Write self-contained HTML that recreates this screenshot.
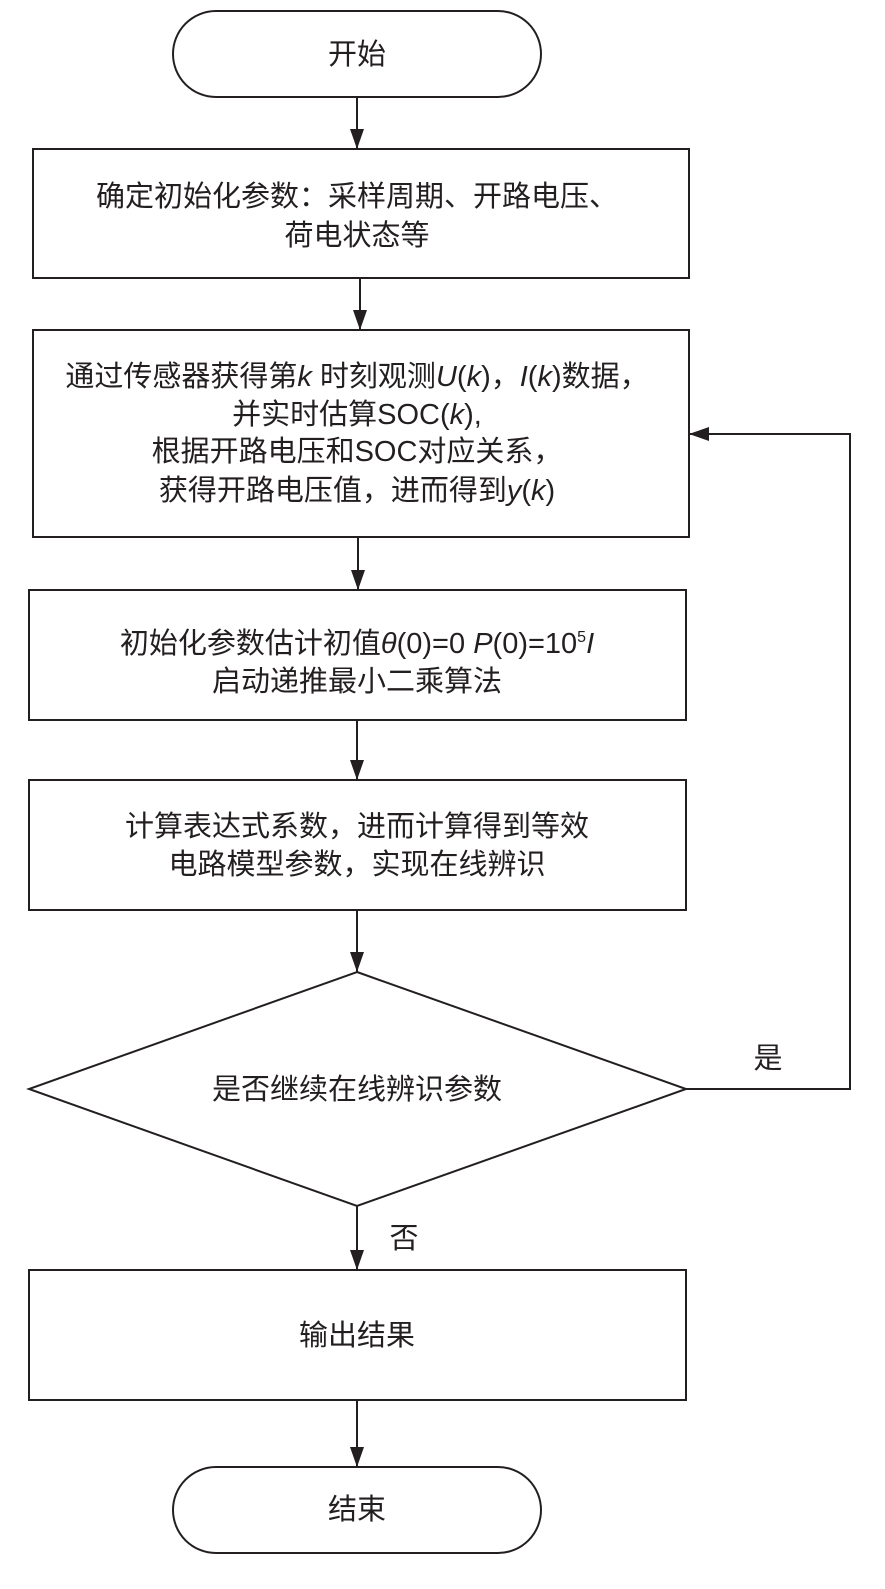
<!DOCTYPE html>
<html><head><meta charset="utf-8"><style>
html,body{margin:0;padding:0;background:#fff;}
svg{display:block;}
text{font-family:"Liberation Sans","Noto Sans CJK SC",sans-serif;font-size:29px;fill:#231f20;text-anchor:middle;}
.i{font-style:italic;}
</style></head><body>
<svg width="885" height="1589" viewBox="0 0 885 1589" xmlns="http://www.w3.org/2000/svg">
<defs>
<marker id="b" markerWidth="20" markerHeight="14" refX="20" refY="7" orient="auto" markerUnits="userSpaceOnUse"><path d="M0,0 L20,7 L0,14 z" fill="#231f20"/></marker></defs>
<g stroke="#231f20" stroke-width="2" fill="none">
<rect x="173" y="11" width="368" height="86" rx="43"/>
<rect x="33" y="149" width="656" height="129"/>
<rect x="33" y="330" width="656" height="207"/>
<rect x="29" y="590" width="657" height="130"/>
<rect x="29" y="780" width="657" height="130"/>
<path d="M357,972 L686,1089 L357,1206 L29,1089 Z"/>
<rect x="29" y="1270" width="657" height="130"/>
<rect x="173" y="1467" width="368" height="86" rx="43"/>
<g marker-end="url(#b)">
<line x1="357" y1="97" x2="357" y2="149"/>
<line x1="360" y1="278" x2="360" y2="330"/>
<line x1="358" y1="537" x2="358" y2="590"/>
<line x1="357" y1="720" x2="357" y2="780"/>
<line x1="357" y1="910" x2="357" y2="972"/>
<line x1="357" y1="1206" x2="357" y2="1270"/>
<line x1="357" y1="1400" x2="357" y2="1467"/>
<polyline points="686,1089 850,1089 850,434 689,434"/>
</g>
</g>
<text x="357" y="64">开始</text>
<text x="357" y="206">确定初始化参数：采样周期、开路电压、</text>
<text x="357" y="245">荷电状态等</text>
<text x="357" y="386">通过传感器获得第<tspan class="i">k</tspan> 时刻观测<tspan class="i">U</tspan>(<tspan class="i">k</tspan>)，<tspan class="i">I</tspan>(<tspan class="i">k</tspan>)数据，</text>
<text x="357" y="424">并实时估算SOC(<tspan class="i">k</tspan>),</text>
<text x="357" y="461">根据开路电压和SOC对应关系，</text>
<text x="357" y="500">获得开路电压值，进而得到<tspan class="i">y</tspan>(<tspan class="i">k</tspan>)</text>
<text x="357" y="653">初始化参数估计初值<tspan class="i">θ</tspan>(0)=0 <tspan class="i">P</tspan>(0)=10<tspan font-size="16" dy="-11">5</tspan><tspan class="i" dy="11">I</tspan></text>
<text x="357" y="691">启动递推最小二乘算法</text>
<text x="357" y="836">计算表达式系数，进而计算得到等效</text>
<text x="357" y="874">电路模型参数，实现在线辨识</text>
<text x="357" y="1099">是否继续在线辨识参数</text>
<text x="768" y="1068">是</text>
<text x="404" y="1248">否</text>
<text x="357" y="1345">输出结果</text>
<text x="357" y="1519">结束</text>
</svg>
</body></html>
